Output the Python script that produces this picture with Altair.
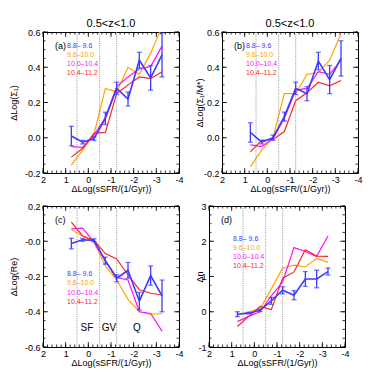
import altair as alt
import pandas as pd
import numpy as np

FONT = "Liberation Sans"

x_bins = [0.75, 0.25, -0.25, -0.75, -1.25, -1.75, -2.25, -2.75, -3.25]
series_names = ["8.8– 9.6", "9.6–10.0", "10.0–10.4", "10.4–11.2"]
colors = ["#3c3cff", "#ffa500", "#ff10ff", "#ff2424"]
zone_lines = [0.5, -0.5, -1.25]
zone_labels = ["SF", "GV", "Q"]
top_title = "0.5<z<1.0"
x_title = "ΔLog(sSFR/(1/Gyr))"

# (a) ΔLog(Σ1)
a_blue = [0.01, -0.025, -0.005, 0.11, 0.28, 0.22, 0.44, 0.34, 0.47]
a_err = [0.055, 0.01, 0.01, 0.035, 0.035, 0.04, 0.045, 0.07, 0.125]
a_orange = [-0.155, -0.07, 0.02, 0.28, 0.26, 0.40, 0.36, 0.48, 0.63]
a_magenta = [-0.05, -0.055, 0.015, 0.115, 0.29, 0.345, 0.39, 0.405, 0.52]
a_red = [-0.11, -0.06, 0.025, 0.03, 0.25, 0.30, 0.345, 0.335, 0.375]

# (b) ΔLog(Σ1/M*)
b_blue = [0.03, -0.025, 0.0, 0.12, 0.28, 0.25, 0.435, 0.33, 0.45]
b_err = [0.055, 0.01, 0.015, 0.025, 0.035, 0.04, 0.05, 0.08, 0.1]
b_orange = [-0.165, -0.07, 0.0, 0.25, 0.25, 0.36, 0.37, 0.44, 0.59]
b_magenta = [-0.04, -0.05, -0.005, 0.11, 0.27, 0.28, 0.375, 0.36, 0.44]
b_red = [-0.08, -0.015, -0.01, 0.035, 0.21, 0.255, 0.315, 0.295, 0.325]

# (c) ΔLog(Re)
c_blue = [-0.013, 0.008, 0.006, -0.11, -0.21, -0.165, -0.34, -0.195, -0.31]
c_err = [0.03, 0.008, 0.008, 0.02, 0.02, 0.045, 0.05, 0.055, 0.09]
c_orange = [0.065, 0.03, -0.005, -0.14, -0.22, -0.33, -0.40, -0.415, -0.41]
c_magenta = [0.07, 0.075, -0.005, -0.11, -0.205, -0.22, -0.40, -0.41, -0.51]
c_red = [0.108, 0.03, 0.005, -0.07, -0.10, -0.19, -0.275, -0.295, -0.305]

# (d) Δn
d_blue = [-0.07, -0.04, 0.04, 0.31, 0.61, 0.47, 0.93, 0.93, 1.14]
d_err = [0.07, 0.02, 0.03, 0.1, 0.1, 0.13, 0.21, 0.25, 0.1]
d_orange = [-0.1, 0.0, 0.08, 0.65, 1.24, 1.32, 1.27, 1.51, 1.40]
d_magenta = [-0.28, -0.13, 0.0, 0.45, 0.85, 1.82, 1.71, 1.57, 2.15]
d_red = [-0.42, -0.13, 0.15, 0.06, 0.95, 1.13, 1.76, 1.58, 1.57]

W, H = 136, 141
MAJ, MIN = 5, 2.5


def neg_fmt(fmt, negzero=False):
    cond = "datum.value<=0" if negzero else "datum.value<0"
    return f"({cond}?'-':'') + format(abs(datum.value),'{fmt}')"


def panel(blue, err, orange, magenta, red, ydom, ymajor, ystep, ytitle,
          ytitle_x, label, leg_x, leg_y, leg_dy, yfmt, negzero=False,
          title=None, zones=False):
    xscale = alt.Scale(domain=[-4, 2], reverse=True, nice=False, zero=False)
    yscale = alt.Scale(domain=ydom, nice=False, zero=False)
    xaxis = alt.Axis(values=[2, 1, 0, -1, -2, -3, -4], labelExpr=neg_fmt("d"),
                     ticks=False, domain=False, grid=False, labelPadding=2,
                     labelFlush=False, labelOverlap=False, title=x_title,
                     titlePadding=0)
    yaxis = alt.Axis(values=ymajor, labelExpr=neg_fmt(yfmt, negzero),
                     ticks=False, domain=False, grid=False, labelPadding=3,
                     labelFlush=False, labelOverlap=False, title=ytitle,
                     titleX=ytitle_x, titleY=H / 2, titleBaseline="middle",
                     titleAngle=270)

    def XF(f):
        return alt.X(f, scale=xscale, axis=xaxis)

    def YF(f):
        return alt.Y(f, scale=yscale, axis=yaxis)

    rows = []
    for name, vals in zip(series_names[1:], [orange, magenta, red]):
        for xv, yv in zip(x_bins, vals):
            rows.append({"x": xv, "y": yv, "s": name})
    df = pd.DataFrame(rows)
    bdf = pd.DataFrame({"x": x_bins, "y": blue,
                        "lo": np.array(blue) - np.array(err),
                        "hi": np.array(blue) + np.array(err)})

    lines = alt.Chart(df).mark_line(strokeWidth=1.2, clip=True).encode(
        x=XF("x:Q"), y=YF("y:Q"),
        color=alt.Color("s:N", scale=alt.Scale(domain=series_names[1:], range=colors[1:]),
                        legend=None),
    )
    bline = alt.Chart(bdf).mark_line(color=colors[0], strokeWidth=1.6, clip=True).encode(
        x=XF("x:Q"), y=YF("y:Q"))
    bbar = alt.Chart(bdf).mark_rule(color=colors[0], strokeWidth=1.3, clip=True).encode(
        x=XF("x:Q"), y=YF("lo:Q"), y2="hi:Q")
    cap_lo = alt.Chart(bdf).mark_tick(color=colors[0], orient="horizontal", size=5,
                                      thickness=1.3, clip=True).encode(
        x=XF("x:Q"), y=YF("lo:Q"))
    cap_hi = alt.Chart(bdf).mark_tick(color=colors[0], orient="horizontal", size=5,
                                      thickness=1.3, clip=True).encode(
        x=XF("x:Q"), y=YF("hi:Q"))

    vl = alt.Chart(pd.DataFrame({"x": zone_lines})).mark_rule(
        color="#888888", strokeWidth=0.9, strokeDash=[1, 1.2]).encode(
        x=XF("x:Q"), y=alt.value(0), y2=alt.value(H))

    # inward ticks
    xmaj = pd.DataFrame({"x": np.arange(-4, 2.01, 1.0)})
    xmin = pd.DataFrame({"x": np.round(np.arange(-4, 2.001, 0.2), 3)})
    ymaj = pd.DataFrame({"y": ymajor})
    ymin = pd.DataFrame({"y": np.round(np.arange(ydom[0], ydom[1] + 1e-9, ystep), 4)})
    tick_layers = []
    for d, L in [(xmaj, MAJ), (xmin, MIN)]:
        tick_layers.append(alt.Chart(d).mark_rule(color="black", strokeWidth=0.8).encode(
            x=XF("x:Q"), y=alt.value(H), y2=alt.value(H - L)))
        tick_layers.append(alt.Chart(d).mark_rule(color="black", strokeWidth=0.8).encode(
            x=XF("x:Q"), y=alt.value(0), y2=alt.value(L)))
    for d, L in [(ymaj, MAJ), (ymin, MIN)]:
        tick_layers.append(alt.Chart(d).mark_rule(color="black", strokeWidth=0.8).encode(
            y=YF("y:Q"), x=alt.value(0), x2=alt.value(L)))
        tick_layers.append(alt.Chart(d).mark_rule(color="black", strokeWidth=0.8).encode(
            y=YF("y:Q"), x=alt.value(W), x2=alt.value(W - L)))

    texts = []
    texts.append(alt.Chart(pd.DataFrame({"t": [label]})).mark_text(
        align="left", baseline="middle", fontSize=9, font=FONT, color="black").encode(
        text="t:N", x=alt.value(12), y=alt.value(14)))
    for i, name in enumerate(series_names):
        texts.append(alt.Chart(pd.DataFrame({"t": [name]})).mark_text(
            align="left", baseline="middle", fontSize=7, font=FONT, color=colors[i]).encode(
            text="t:N", x=alt.value(leg_x), y=alt.value(leg_y + i * leg_dy)))
    if zones:
        for t, px in zip(zone_labels, [44, 66, 94]):
            texts.append(alt.Chart(pd.DataFrame({"t": [t]})).mark_text(
                align="center", baseline="middle", fontSize=10, font=FONT, color="black").encode(
                text="t:N", x=alt.value(px), y=alt.value(122)))

    ch = alt.layer(lines, vl, *tick_layers, bbar, cap_lo, cap_hi, bline, *texts).properties(
        width=W, height=H)
    if title:
        ch = ch.properties(title=alt.TitleParams(title, fontSize=11, fontWeight="normal",
                                                 font=FONT, offset=-1, color="black"))
    return ch


pa = panel(a_blue, a_err, a_orange, a_magenta, a_red, [-0.2, 0.6],
           [-0.2, 0.0, 0.2, 0.4, 0.6], 0.05, "ΔLog(Σ₁)", -30, "(a)",
           24, 14, 9, ".1f", title=top_title)
pb = panel(b_blue, b_err, b_orange, b_magenta, b_red, [-0.2, 0.6],
           [-0.2, 0.0, 0.2, 0.4, 0.6], 0.05, "ΔLog(Σ₁/M*)", -23, "(b)",
           24, 14, 9, ".1f", title=top_title)
pc = panel(c_blue, c_err, c_orange, c_magenta, c_red, [-0.6, 0.2],
           [0.2, 0.0, -0.2, -0.4, -0.6], 0.05, "ΔLog(Re)", -30, "(c)",
           24, 68, 9.3, ".1f", negzero=True, zones=True)
pd_ = panel(d_blue, d_err, d_orange, d_magenta, d_red, [-1, 3],
            [-1, 0, 1, 2, 3], 0.25, "Δn", -10, "(d)",
            24, 33, 9, "d")

top = alt.hconcat(pa, pb, spacing=10)
bottom = alt.hconcat(pc, pd_, spacing=10)
chart = alt.vconcat(top, bottom, spacing=7).properties(
    padding={"left": 0, "top": 9, "right": 0, "bottom": 0}
).configure_view(stroke="black", strokeWidth=1).configure_axis(
    labelFont=FONT, titleFont=FONT, labelFontSize=9, titleFontSize=9,
    titleFontWeight="normal", labelColor="black", titleColor="black")

chart.save("out.html", embed_options={"renderer": "svg", "actions": False})
